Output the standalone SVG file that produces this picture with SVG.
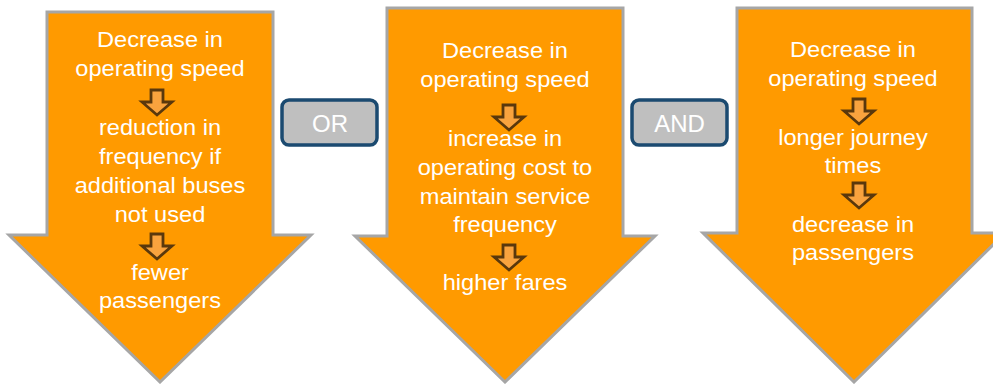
<svg xmlns="http://www.w3.org/2000/svg" xmlns:xlink="http://www.w3.org/1999/xlink" width="993" height="384" viewBox="0 0 993 384">
<style>
.big{fill:#ff9a00;stroke:#a6a6a6;stroke-width:3;stroke-linejoin:miter}
.t{font-family:"Liberation Sans",Arial,sans-serif;font-size:22.5px;fill:#ffffff;text-anchor:middle}
.box{fill:#bfbfbf;stroke:#1b4a70;stroke-width:3.5}
.bt{font-family:"Liberation Sans",Arial,sans-serif;font-size:24px;fill:#ffffff;text-anchor:middle}
.sm{fill:#f9a33e;stroke:#5a380c;stroke-width:2.8;stroke-linejoin:miter}
</style>
<defs>
<path id="sa" class="sm" d="M-6,0 h12 v12 h9 l-15,13 l-15,-13 h9 z"/>
</defs>
<rect width="993" height="384" fill="#ffffff"/>
<g id="arrow1">
<path class="big" d="M47,12 H273 V235 H311 L160,382 L9,235 H47 Z"/>
<g transform="translate(160,0) scale(1.05,1)">
<text class="t" x="0" y="47">Decrease in</text>
<text class="t" x="0" y="76">operating speed</text>
<text class="t" x="0" y="135">reduction in</text>
<text class="t" x="0" y="164">frequency if</text>
<text class="t" x="0" y="193">additional buses</text>
<text class="t" x="0" y="222">not used</text>
<text class="t" x="0" y="280">fewer</text>
<text class="t" x="0" y="308">passengers</text>
</g>
<use xlink:href="#sa" href="#sa" x="157" y="90"/>
<use xlink:href="#sa" href="#sa" x="157" y="234"/>
</g>
<g id="or">
<rect class="box" x="282" y="100" width="95" height="45" rx="7"/>
<text class="bt" x="330" y="132">OR</text>
</g>
<g id="arrow2">
<path class="big" d="M387,8 H623 V236 H655 L505,382 L355,236 H387 Z"/>
<g transform="translate(505,0) scale(1.05,1)">
<text class="t" x="0" y="58">Decrease in</text>
<text class="t" x="0" y="87">operating speed</text>
<text class="t" x="0" y="146">increase in</text>
<text class="t" x="0" y="175">operating cost to</text>
<text class="t" x="0" y="204">maintain service</text>
<text class="t" x="0" y="232">frequency</text>
<text class="t" x="0" y="290">higher fares</text>
</g>
<use xlink:href="#sa" href="#sa" x="509" y="105"/>
<use xlink:href="#sa" href="#sa" x="509" y="245"/>
</g>
<g id="and">
<rect class="box" x="632" y="100" width="95" height="45" rx="7"/>
<text class="bt" x="679.5" y="132">AND</text>
</g>
<g id="arrow3">
<path class="big" d="M737,8 H972 V233 H1005 L854,382 L703,233 H737 Z"/>
<g transform="translate(853,0) scale(1.05,1)">
<text class="t" x="0" y="57">Decrease in</text>
<text class="t" x="0" y="86">operating speed</text>
<text class="t" x="0" y="145">longer journey</text>
<text class="t" x="0" y="173">times</text>
<text class="t" x="0" y="232">decrease in</text>
<text class="t" x="0" y="260">passengers</text>
</g>
<use xlink:href="#sa" href="#sa" x="859" y="99"/>
<use xlink:href="#sa" href="#sa" x="859" y="183"/>
</g>
<g id="connectors"></g>
</svg>
